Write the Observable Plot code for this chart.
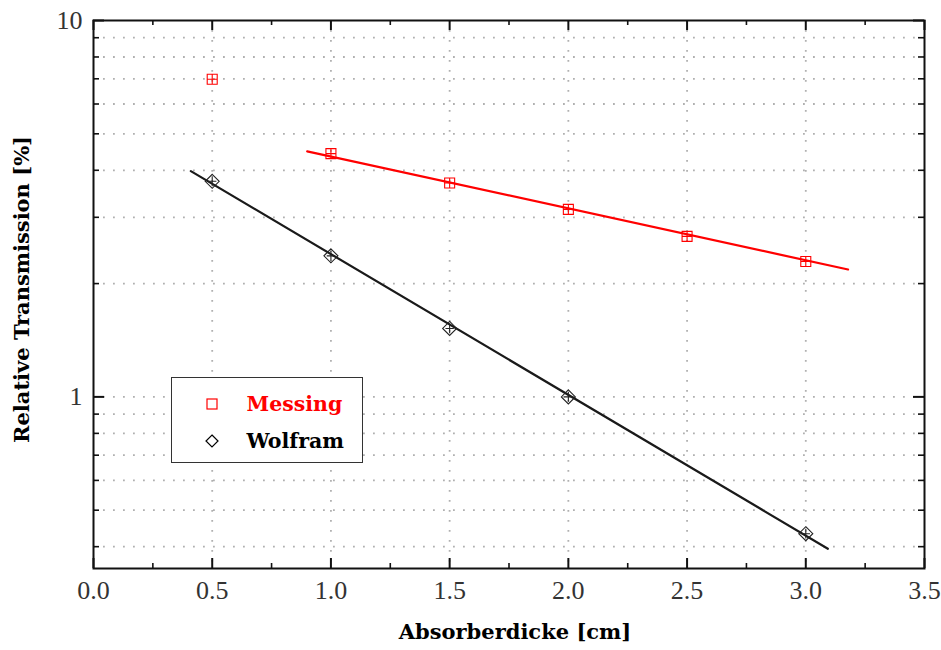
<!DOCTYPE html>
<html>
<head>
<meta charset="utf-8">
<script src="https://cdn.jsdelivr.net/npm/d3@7"></script>
<script src="https://cdn.jsdelivr.net/npm/@observablehq/plot@0.6"></script>
<style>
  html, body { margin: 0; padding: 0; background: #fff; }
  #wrap { position: relative; width: 941px; height: 650px; font-family: "Liberation Serif", "DejaVu Serif", serif; }
  #legend { position: absolute; left: 171px; top: 377px; width: 190px; height: 84px; border: 1.5px solid #333; background: #fff; }
  .item { position: absolute; left: 0; height: 30px; display: flex; align-items: center; font-weight: bold; font-size: 20.5px; font-family: "DejaVu Serif", serif; }
</style>
</head>
<body>
<div id="wrap"></div>
<script>
// ---- data ----
const thickness = [0.5, 1.0, 1.5, 2.0, 2.5, 3.0];
const messing = [6.98, 4.43, 3.70, 3.15, 2.67, 2.29];
const wolframThickness = [0.5, 1.0, 1.5, 2.0, 3.0];
const wolfram = [3.74, 2.37, 1.52, 1.0, 0.433];
const messingFitX = [0.90, 3.178];
const messingFitY = [4.49, 2.18];
const wolframFitX = [0.41, 3.093];
const wolframFitY = [3.98, 0.395];
const xMajor = [0, 0.5, 1.0, 1.5, 2.0, 2.5, 3.0, 3.5];
const xMinor = [0.25, 0.75, 1.25, 1.75, 2.25, 2.75, 3.25];
const xGrid = [0.5, 1.0, 1.5, 2.0, 2.5, 3.0];
const yMajor = [1, 10];
const yMinor = [0.4, 0.5, 0.6, 0.7, 0.8, 0.9, 2, 3, 4, 5, 6, 7, 8, 9];
const yGrid = [0.4, 0.5, 0.6, 0.7, 0.8, 0.9, 1, 2, 3, 4, 5, 6, 7, 8, 9];
const xLabel = "Absorberdicke [cm]";
const yLabel = "Relative Transmission [%]";
const seriesNames = ["Messing", "Wolfram"];
const seriesColors = ["#ff0000", "#000000"];

const messingData = thickness.map((x, i) => ({x, y: messing[i]}));
const wolframData = wolframThickness.map((x, i) => ({x, y: wolfram[i]}));
const messingFit = messingFitX.map((x, i) => ({x, y: messingFitY[i]}));
const wolframFit = wolframFitX.map((x, i) => ({x, y: wolframFitY[i]}));

// custom symbols with error cross inside
const squarePlus = {
  draw(ctx, size) {
    const r = Math.sqrt(size / Math.PI);
    ctx.moveTo(-r, -r); ctx.lineTo(r, -r); ctx.lineTo(r, r); ctx.lineTo(-r, r); ctx.closePath();
    ctx.moveTo(-r, 0); ctx.lineTo(r, 0);
    ctx.moveTo(0, -r); ctx.lineTo(0, r);
  }
};
const diamondPlus = {
  draw(ctx, size) {
    const r = Math.sqrt(size / Math.PI) * 1.4;
    ctx.moveTo(0, -r); ctx.lineTo(r, 0); ctx.lineTo(0, r); ctx.lineTo(-r, 0); ctx.closePath();
    ctx.moveTo(-r * 0.6, 0); ctx.lineTo(r * 0.6, 0);
    ctx.moveTo(0, -r * 0.7); ctx.lineTo(0, r * 0.7);
  }
};

const W = 941, H = 650;
const mL = 93, mR = 17, mT = 20, mB = 82;
const pw = W - mL - mR, ph = H - mT - mB;
const font = '"Liberation Serif", "DejaVu Serif", serif';
const boldFont = '"DejaVu Serif", serif';

const chart = Plot.plot({
  width: W, height: H,
  marginLeft: mL, marginRight: mR, marginTop: mT, marginBottom: mB,
  style: {fontFamily: font, background: "white"},
  x: {domain: [0, 3.5], axis: null},
  y: {type: "log", domain: [0.35, 10], axis: null},
  marks: [
    // grid
    Plot.ruleX(xGrid, {x: d => d, stroke: "#b0b0b0", strokeWidth: 1.8, strokeDasharray: "1.8,8.2"}),
    Plot.ruleY(yGrid, {y: d => d, stroke: "#b0b0b0", strokeWidth: 1.8, strokeDasharray: "1.8,8.2"}),
    // fit lines
    Plot.line(messingFit, {x: "x", y: "y", stroke: seriesColors[0], strokeWidth: 2.2}),
    Plot.line(wolframFit, {x: "x", y: "y", stroke: "#1a1a1a", strokeWidth: 2.2}),
    // points
    Plot.dot(messingData, {x: "x", y: "y", symbol: squarePlus, r: 5, stroke: seriesColors[0], strokeWidth: 1.1, fill: "none"}),
    Plot.dot(wolframData, {x: "x", y: "y", symbol: diamondPlus, r: 5, stroke: "#222", strokeWidth: 1.1, fill: "none"}),
    // ticks bottom/top
    Plot.ruleX(xMajor, {x: d => d, insetTop: ph - 10, stroke: "#111", strokeWidth: 2}),
    Plot.ruleX(xMajor, {x: d => d, insetBottom: ph - 10, stroke: "#111", strokeWidth: 2}),
    Plot.ruleX(xMinor, {x: d => d, insetTop: ph - 5, stroke: "#111", strokeWidth: 1.6}),
    Plot.ruleX(xMinor, {x: d => d, insetBottom: ph - 5, stroke: "#111", strokeWidth: 1.6}),
    // ticks left/right
    Plot.ruleY(yMajor, {y: d => d, insetRight: pw - 11, stroke: "#111", strokeWidth: 2}),
    Plot.ruleY(yMajor, {y: d => d, insetLeft: pw - 11, stroke: "#111", strokeWidth: 2}),
    Plot.ruleY(yMinor, {y: d => d, insetRight: pw - 6, stroke: "#111", strokeWidth: 1.6}),
    Plot.ruleY(yMinor, {y: d => d, insetLeft: pw - 6, stroke: "#111", strokeWidth: 1.6}),
    Plot.frame({stroke: "#111", strokeWidth: 2}),
    // tick labels
    Plot.text(xMajor, {x: d => d, text: d => d3.format(".1f")(d), frameAnchor: "bottom", dy: 22, lineAnchor: "middle", fontSize: 26, fill: "#333"}),
    Plot.text(yMajor, {y: d => d, text: d => String(d), frameAnchor: "left", dx: -11, textAnchor: "end", lineAnchor: "middle", fontSize: 26, fill: "#333"}),
    // axis titles
    Plot.text([xLabel], {text: d => d, frameAnchor: "bottom", dx: 6, dy: 64, textAnchor: "middle", lineAnchor: "middle", fontSize: 21, fontWeight: "bold", fontFamily: boldFont, fill: "#000"}),
    Plot.text([yLabel], {text: d => d, frameAnchor: "left", dx: -71, dy: -5, rotate: -90, textAnchor: "middle", lineAnchor: "middle", fontSize: 21, fontWeight: "bold", fontFamily: boldFont, fill: "#000"})
  ]
});

const wrap = document.getElementById("wrap");
wrap.appendChild(chart);

// legend overlay
const legend = document.createElement("div");
legend.id = "legend";
legend.innerHTML = `
  <div class="item" style="top:11px;color:${seriesColors[0]}">
    <svg width="12" height="12" style="margin-left:33.5px;margin-right:29px"><rect x="1" y="1" width="10" height="10" fill="none" stroke="${seriesColors[0]}" stroke-width="1.2"/></svg>${seriesNames[0]}
  </div>
  <div class="item" style="top:48px;color:${seriesColors[1]}">
    <svg width="14" height="14" style="margin-left:32.5px;margin-right:28px"><path d="M7 1 L13 7 L7 13 L1 7 Z" fill="none" stroke="#000" stroke-width="1.2"/></svg>${seriesNames[1]}
  </div>`;
wrap.appendChild(legend);
</script>
</body>
</html>
